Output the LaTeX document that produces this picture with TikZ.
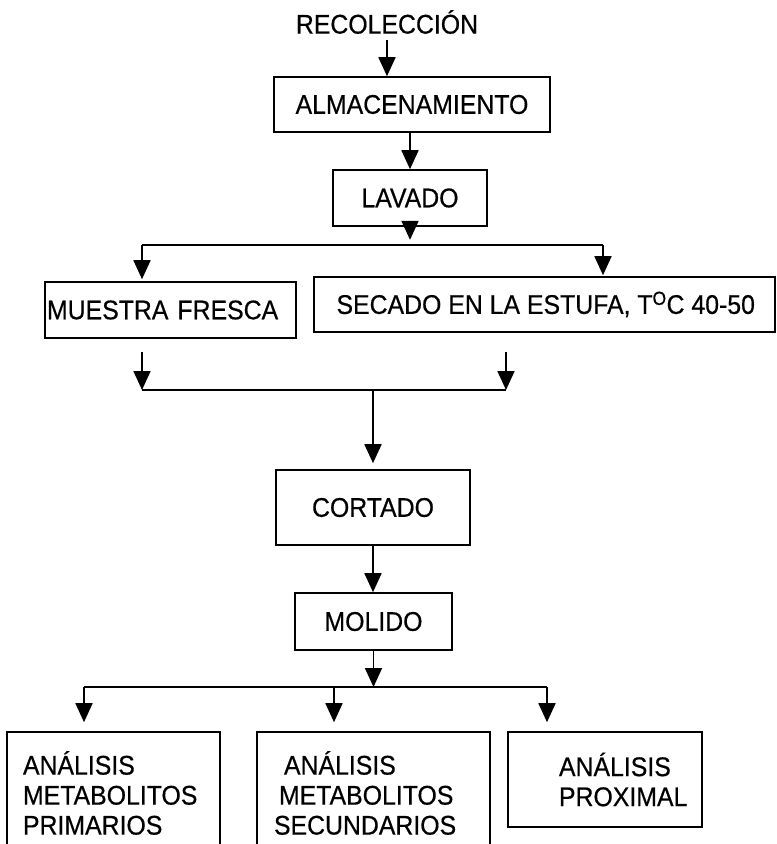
\documentclass[tikz,border=0pt]{standalone}
\usepackage{fontspec}
\setmainfont{Liberation Sans}[FakeStretch=0.92,FakeBold=0.5]
\usetikzlibrary{arrows.meta}
\begin{document}
\begin{tikzpicture}[x=1pt,y=-1pt,
  txt/.style={font=\fontsize{27}{30}\selectfont},
  lbl/.style={txt, inner sep=0pt},
  box/.style={txt, draw, line width=1.6pt, rectangle, inner sep=0pt},
  ln/.style={line width=1.8pt},
  arr/.style={line width=1.8pt, -{Triangle[width=17pt,length=19pt]}}]
\useasboundingbox (0,0) rectangle (777,844);
\clip (0,0) rectangle (777,844);

% nodes
\node[lbl] (rec) at (387,22) {RECOLECCIÓN};
\node[box, minimum width=276pt, minimum height=55pt] (alm) at (412,104.5) {ALMACENAMIENTO};
\node[box, minimum width=154pt, minimum height=56pt] (lav) at (410,198) {LAVADO};
\node[box, text width=247pt, inner xsep=2pt, minimum height=56pt, align=left] (mue) at (170.5,310) {MUESTRA FRESCA};
\node[box, inner xsep=12.5pt, minimum height=55pt] (sec) at (544.5,304.5) {\makebox[436pt][l]{\hspace*{10pt}SECADO EN LA ESTUFA, T\textsuperscript{O}C 40-50}};
\node[box, minimum width=194pt, minimum height=75pt] (cort) at (373,507.5) {CORTADO};
\node[box, minimum width=157pt, minimum height=57pt] (mol) at (373.5,621.5) {MOLIDO};
\node[box, text width=181pt, inner xsep=16pt, minimum height=122pt, align=left] (a1) at (113.5,793) {ANÁLISIS\\METABOLITOS\\PRIMARIOS};
\node[box, text width=199pt, inner xsep=17pt, minimum height=122pt, align=left] (a2) at (373.5,793) {\hspace*{10pt}ANÁLISIS\\\hspace*{5pt}METABOLITOS\\SECUNDARIOS};
\node[box, text width=174pt, inner xsep=10pt, minimum height=95pt, align=left] (a3) at (605,779.5) {\hspace*{41pt}ANÁLISIS\\\hspace*{41pt}PROXIMAL};

% branch points
\coordinate (bl) at (142,245);
\coordinate (br) at (603,245);
\coordinate (ml) at (142,352);
\coordinate (mr) at (506,352);
\coordinate (jl) at (142,390);
\coordinate (jr) at (506,390);
\coordinate (kl) at (84,687);
\coordinate (km) at (334,687);
\coordinate (kr) at (547,687);

% connectors
\draw[arr, shorten <=6pt] (rec.south) -- (rec.south |- alm.north);
\draw[arr] (alm.south -| lav) -- (lav.north);
\draw[arr] ([yshift=6pt]lav.south) -- ++(0,19);
\draw[ln] (bl) -- (br);
\draw[arr, shorten >=2pt] (bl) -- (bl |- mue.north);
\draw[arr, shorten >=1pt] (br) -- (br |- sec.north);
\draw[arr] (ml) -- (jl);
\draw[arr] (mr) -- (jr);
\draw[ln] (jl) -- (jr);
\draw[arr, shorten >=6pt] (jl -| cort) -- (cort.north);
\draw[arr] (cort.south) -- (cort.south |- mol.north);
\draw[arr] (mol.south) -- (mol.south |- kl);
\draw[ln] (kl) -- (kr);
\draw[arr, shorten >=9pt] (kl) -- (kl |- a1.north);
\draw[arr, shorten >=9pt] (km) -- (km |- a2.north);
\draw[arr, shorten >=9pt] (kr) -- (kr |- a3.north);
\end{tikzpicture}
\end{document}
